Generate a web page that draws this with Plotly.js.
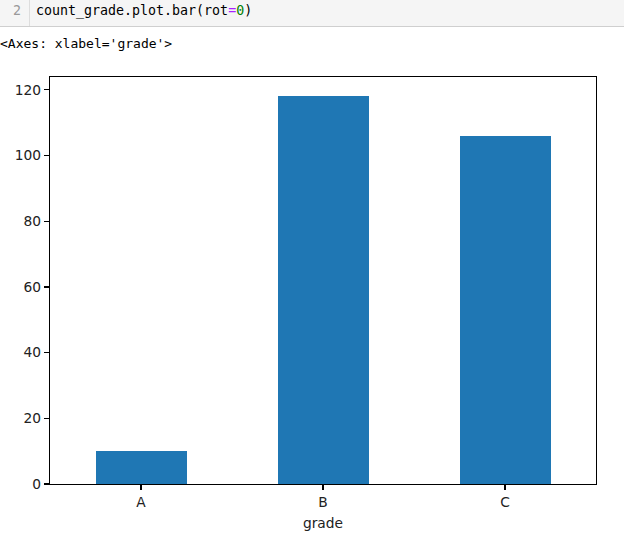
<!DOCTYPE html>
<html>
<head>
<meta charset="utf-8">
<script src="https://cdn.plot.ly/plotly-3.0.1.min.js"></script>
<style>
  html, body { margin: 0; padding: 0; background: #ffffff; width: 624px; height: 541px; overflow: hidden; }
  #cell { position: absolute; left: 0; top: 0; width: 624px; height: 27px; background: #f5f5f5; border-bottom: 1px solid #cfcfcf; box-sizing: border-box; }
  #gutter { position: absolute; left: 0; top: 0; width: 30px; height: 26px; border-right: 1px solid #dddddd; box-sizing: border-box; }
  #lineno { position: absolute; left: 13px; top: 3px; font-family: "DejaVu Sans Mono", monospace; font-size: 13.3px; color: #999999; }
  #code { position: absolute; left: 36px; top: 3px; font-family: "DejaVu Sans Mono", monospace; font-size: 13.3px; color: #000000; white-space: pre; }
  #out { position: absolute; left: 0px; top: 36px; font-family: "DejaVu Sans Mono", monospace; font-size: 13px; color: #000000; white-space: pre; }
  #plot { position: absolute; left: 0; top: 0; width: 624px; height: 541px; }
</style>
</head>
<body>
<div id="plot"></div>
<div id="cell"><div id="gutter"></div><span id="lineno">2</span><span id="code">count_grade.plot.bar(rot<span style="color:#aa22ff">=</span><span style="color:#008000">0</span>)</span></div>
<div id="out">&lt;Axes: xlabel='grade'&gt;</div>
<script>
const categories = ["A", "B", "C"];
const counts = [10, 118, 106];
const yTicks = [0, 20, 40, 60, 80, 100, 120];

const trace = {
  type: "bar",
  x: categories,
  y: counts,
  width: 0.5,
  marker: { color: "#1f77b4", line: { width: 0 } },
  hoverinfo: "x+y"
};

const fontFam = "DejaVu Sans, sans-serif";
const layout = {
  width: 624,
  height: 541,
  margin: { l: 50, r: 28, t: 77, b: 57, pad: 0 },
  paper_bgcolor: "rgba(0,0,0,0)",
  plot_bgcolor: "#ffffff",
  showlegend: false,
  bargap: 0,
  xaxis: {
    type: "category",
    range: [-0.5, 2.5],
    showgrid: false,
    zeroline: false,
    showline: true,
    mirror: true,
    linecolor: "#000000",
    linewidth: 1.2,
    ticks: "outside",
    ticklen: 5,
    tickwidth: 1.2,
    tickcolor: "#000000",
    tickfont: { family: fontFam, size: 13.8, color: "#222222" },
    title: { text: "grade", font: { family: fontFam, size: 13.8, color: "#222222" }, standoff: 9 },
    fixedrange: true
  },
  yaxis: {
    range: [0, 123.9],
    tickvals: yTicks,
    ticktext: yTicks.map(String),
    showgrid: false,
    zeroline: false,
    showline: true,
    mirror: true,
    linecolor: "#000000",
    linewidth: 1.2,
    ticks: "outside",
    ticklen: 5,
    tickwidth: 1.2,
    tickcolor: "#000000",
    tickfont: { family: fontFam, size: 13.8, color: "#222222" },
    fixedrange: true
  }
};

Plotly.newPlot("plot", [trace], layout, { displayModeBar: false, staticPlot: true });
</script>
</body>
</html>
